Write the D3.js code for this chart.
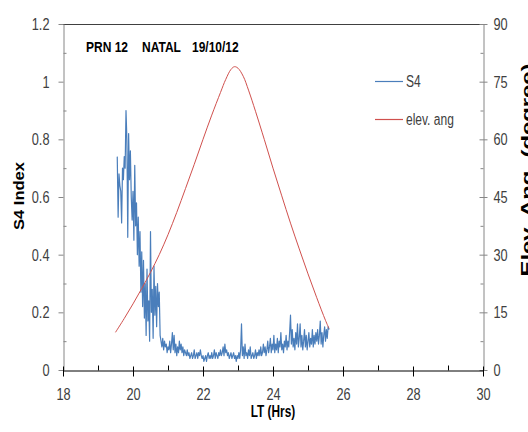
<!DOCTYPE html>
<html>
<head>
<meta charset="utf-8">
<script src="https://cdn.jsdelivr.net/npm/d3@7"></script>
<style>
  html, body { margin: 0; padding: 0; background: #fff; }
  svg { display: block; }
  .tick text { font-family: "Liberation Sans", Arial, sans-serif; font-size: 17px; fill: #404040; }
</style>
</head>
<body>
<svg id="chart" width="528" height="432"></svg>
<script>
// S4 scintillation index, PRN 12 over Natal, sampled every 1.5 min of local time
const s4Start = 19.55;
const s4Step = 0.025;
const s4Values = [
  0.74, 0.53, 0.68, 0.64, 0.62, 0.51, 0.70, 0.66, 0.74, 0.70,
  0.90, 0.80, 0.46, 0.82, 0.66, 0.76, 0.60, 0.52, 0.62, 0.45,
  0.71, 0.50, 0.58, 0.40, 0.53, 0.36, 0.48, 0.27, 0.41, 0.22,
  0.38, 0.18, 0.30, 0.12, 0.35, 0.17, 0.24, 0.10, 0.48, 0.20,
  0.28, 0.11, 0.36, 0.19, 0.29, 0.15, 0.30, 0.22, 0.27, 0.12,
  0.10, 0.08, 0.11, 0.07, 0.10, 0.08, 0.09, 0.06, 0.08, 0.07,
  0.10, 0.06, 0.09, 0.13, 0.07, 0.12, 0.06, 0.09, 0.05, 0.08,
  0.06, 0.10, 0.07, 0.09, 0.06, 0.08, 0.05, 0.07, 0.06, 0.05,
  0.07, 0.05, 0.06, 0.04, 0.05, 0.06, 0.04, 0.05, 0.07, 0.04,
  0.05, 0.06, 0.04, 0.06, 0.05, 0.07, 0.05, 0.04, 0.05, 0.03,
  0.04, 0.05, 0.03, 0.05, 0.06, 0.04, 0.05, 0.04, 0.06, 0.04,
  0.05, 0.07, 0.04, 0.06, 0.05, 0.04, 0.06, 0.05, 0.07, 0.05,
  0.06, 0.08, 0.05, 0.09, 0.06, 0.07, 0.05, 0.06, 0.04, 0.05,
  0.06, 0.04, 0.05, 0.06, 0.04, 0.05, 0.03, 0.05, 0.04, 0.06,
  0.04, 0.07, 0.16, 0.05, 0.08, 0.04, 0.09, 0.05, 0.06, 0.04,
  0.07, 0.05, 0.08, 0.04, 0.05, 0.06, 0.04, 0.05, 0.07, 0.04,
  0.06, 0.05, 0.07, 0.05, 0.08, 0.05, 0.06, 0.09, 0.06, 0.08,
  0.05, 0.07, 0.10, 0.06, 0.08, 0.11, 0.06, 0.09, 0.07, 0.12,
  0.06, 0.09, 0.07, 0.11, 0.06, 0.10, 0.08, 0.13, 0.07, 0.09,
  0.06, 0.10, 0.08, 0.12, 0.07, 0.10, 0.08, 0.13, 0.19, 0.09,
  0.14, 0.08, 0.11, 0.07, 0.13, 0.09, 0.16, 0.08, 0.11, 0.16,
  0.08, 0.12, 0.07, 0.10, 0.14, 0.08, 0.12, 0.07, 0.10, 0.13,
  0.08, 0.11, 0.09, 0.14, 0.08, 0.12, 0.09, 0.13, 0.10, 0.14,
  0.09, 0.12, 0.17, 0.09, 0.13, 0.08, 0.12, 0.15, 0.10, 0.14,
  0.11, 0.15, 0.14
];

// Satellite elevation angle (degrees) against local time (hours)
const elevTime = [19.5, 19.75, 20.0, 20.25, 20.5, 20.75, 21.0, 21.25, 21.5, 21.75,
                  22.0, 22.25, 22.5, 22.65, 22.8, 22.9, 23.0, 23.15, 23.3, 23.5,
                  23.75, 24.0, 24.25, 24.5, 24.75, 25.0, 25.25, 25.5, 25.6];
const elevDeg  = [9.8, 13.4, 17.2, 21.2, 25.4, 30.0, 35.2, 41.0, 47.2, 53.5,
                  60.0, 66.3, 72.2, 75.6, 78.2, 78.9, 78.5, 76.4, 72.8, 67.3,
                  60.0, 52.5, 45.3, 38.2, 31.5, 25.0, 18.8, 12.9, 10.8];

// Axis ticks and labels
const xTicks = [18, 20, 22, 24, 26, 28, 30];
const xMinorTicks = [19, 21, 23, 25, 27, 29];
const s4Ticks = [0, 0.2, 0.4, 0.6, 0.8, 1, 1.2];
const s4TickLabels = ["0", "0.2", "0.4", "0.6", "0.8", "1", "1.2"];
const s4MinorTicks = [0.1, 0.3, 0.5, 0.7, 0.9, 1.1];
const elevTicks = [0, 15, 30, 45, 60, 75, 90];
const elevTickLabels = ["0", "15", "30", "45", "60", "75", "90"];
const elevMinorTicks = [7.5, 22.5, 37.5, 52.5, 67.5, 82.5];

const seriesNames = ["S4", "elev. ang"];
const seriesColors = ["#4a7ebb", "#d0504d"];
const titleParts = ["PRN 12", "NATAL", "19/10/12"];

const svg = d3.select("#chart");
const plot = { left: 63, right: 483, top: 24, bottom: 370 };

const x = d3.scaleLinear().domain([18, 30]).range([plot.left, plot.right]);
const yS4 = d3.scaleLinear().domain([0, 1.2]).range([plot.bottom, plot.top]);
const yElev = d3.scaleLinear().domain([0, 90]).range([plot.bottom, plot.top]);

const sans = '"Liberation Sans", Arial, sans-serif';

// condensed lettering: squeeze each text horizontally by factor k
function squeeze(sel, k) {
  sel.each(function () {
    const w = this.getComputedTextLength();
    d3.select(this).attr("textLength", w * k).attr("lengthAdjust", "spacingAndGlyphs");
  });
}

// top frame line
svg.append("line")
  .attr("x1", plot.left).attr("x2", plot.right)
  .attr("y1", plot.top + 0.5).attr("y2", plot.top + 0.5)
  .attr("stroke", "#404040").attr("stroke-width", 1);

// left axis: minor ticks inside, major ticks outside
svg.append("g")
  .attr("transform", `translate(${plot.left + 0.5},0)`)
  .call(d3.axisLeft(yS4).tickValues(s4MinorTicks).tickSize(-3).tickSizeOuter(0).tickFormat(""))
  .call(g => g.select(".domain").remove())
  .call(g => g.selectAll("line").attr("stroke", "#868686"));
svg.append("g")
  .attr("transform", `translate(${plot.left + 0.5},0)`)
  .call(d3.axisLeft(yS4).tickValues(s4Ticks).tickSize(5).tickSizeOuter(0)
    .tickFormat((d, i) => s4TickLabels[i]).tickPadding(9))
  .call(g => g.select(".domain").attr("stroke", "#868686"))
  .call(g => g.selectAll("line").attr("stroke", "#868686"))
  .call(g => squeeze(g.selectAll("text"), 0.75));

// right axis: minor ticks inside, major ticks crossing
svg.append("g")
  .attr("transform", `translate(${plot.right + 0.5},0)`)
  .call(d3.axisRight(yElev).tickValues(elevMinorTicks).tickSize(-3).tickSizeOuter(0).tickFormat(""))
  .call(g => g.select(".domain").remove())
  .call(g => g.selectAll("line").attr("stroke", "#868686"));
svg.append("g")
  .attr("transform", `translate(${plot.right + 0.5},0)`)
  .call(d3.axisRight(yElev).tickValues(elevTicks).tickSize(4).tickSizeOuter(0)
    .tickFormat((d, i) => elevTickLabels[i]).tickPadding(6))
  .call(g => g.select(".domain").attr("stroke", "#868686"))
  .call(g => g.selectAll(".tick line").attr("x1", -4).attr("stroke", "#868686"))
  .call(g => squeeze(g.selectAll("text"), 0.75));

// bottom axis: minor ticks inside, major ticks crossing
svg.append("g")
  .attr("transform", `translate(0,${plot.bottom + 0.5})`)
  .call(d3.axisBottom(x).tickValues(xMinorTicks).tickSize(-5).tickSizeOuter(0).tickFormat(""))
  .call(g => g.select(".domain").remove())
  .call(g => g.selectAll("line").attr("stroke", "#000"));
svg.append("g")
  .attr("transform", `translate(0,${plot.bottom + 0.5})`)
  .call(d3.axisBottom(x).tickValues(xTicks).tickSize(6).tickSizeOuter(0)
    .tickFormat(d3.format("d")).tickPadding(11))
  .call(g => g.select(".domain").attr("stroke", "#000"))
  .call(g => g.selectAll(".tick line").attr("y1", -4).attr("stroke", "#000"))
  .call(g => squeeze(g.selectAll("text"), 0.75));

// S4 series
const s4Line = d3.line()
  .x((d, i) => x(s4Start + i * s4Step))
  .y(d => yS4(d));
svg.append("path")
  .datum(s4Values)
  .attr("fill", "none")
  .attr("stroke", seriesColors[0])
  .attr("stroke-width", 1.2)
  .attr("stroke-linejoin", "round")
  .attr("d", s4Line);

// elevation angle series
const elevLine = d3.line()
  .x(d => x(d[0]))
  .y(d => yElev(d[1]))
  .curve(d3.curveCatmullRom);
svg.append("path")
  .datum(elevTime.map((t, i) => [t, elevDeg[i]]))
  .attr("fill", "none")
  .attr("stroke", seriesColors[1])
  .attr("stroke-width", 1)
  .attr("d", elevLine);

// chart title
const titleX = [86, 142, 192];
titleParts.forEach((p, i) => {
  svg.append("text")
    .attr("x", titleX[i]).attr("y", 52)
    .attr("font-family", sans)
    .attr("font-weight", "bold")
    .attr("font-size", 15)
    .attr("fill", "#000")
    .text(p)
    .call(t => squeeze(t, 0.8));
});

// legend
const legendY = [81, 119];
seriesNames.forEach((name, i) => {
  svg.append("line")
    .attr("x1", 375).attr("x2", 403)
    .attr("y1", legendY[i] + 0.5).attr("y2", legendY[i] + 0.5)
    .attr("stroke", seriesColors[i]).attr("stroke-width", 1.2);
  svg.append("text")
    .attr("x", 406).attr("y", legendY[i] + 6)
    .attr("font-family", sans).attr("font-size", 16)
    .attr("fill", "#404040")
    .text(name)
    .call(t => squeeze(t, 0.75));
});

// axis titles
svg.append("text")
  .attr("x", x(24)).attr("y", 417)
  .attr("text-anchor", "middle")
  .attr("font-family", sans).attr("font-weight", "bold").attr("font-size", 16)
  .attr("fill", "#000")
  .text("LT (Hrs)")
  .call(t => squeeze(t, 0.74));

svg.append("text")
  .attr("transform", "translate(24,196) rotate(-90)")
  .attr("text-anchor", "middle")
  .attr("font-family", sans).attr("font-weight", "bold").attr("font-size", 14)
  .attr("textLength", 68).attr("lengthAdjust", "spacingAndGlyphs")
  .attr("fill", "#000")
  .text("S4 Index");

svg.append("text")
  .attr("transform", "translate(533,170) rotate(-90)")
  .attr("text-anchor", "middle")
  .attr("font-family", sans).attr("font-weight", "bold").attr("font-size", 17)
  .attr("textLength", 213).attr("lengthAdjust", "spacingAndGlyphs")
  .attr("fill", "#000")
  .text("Elev. Ang. (degree)");
</script>
</body>
</html>
